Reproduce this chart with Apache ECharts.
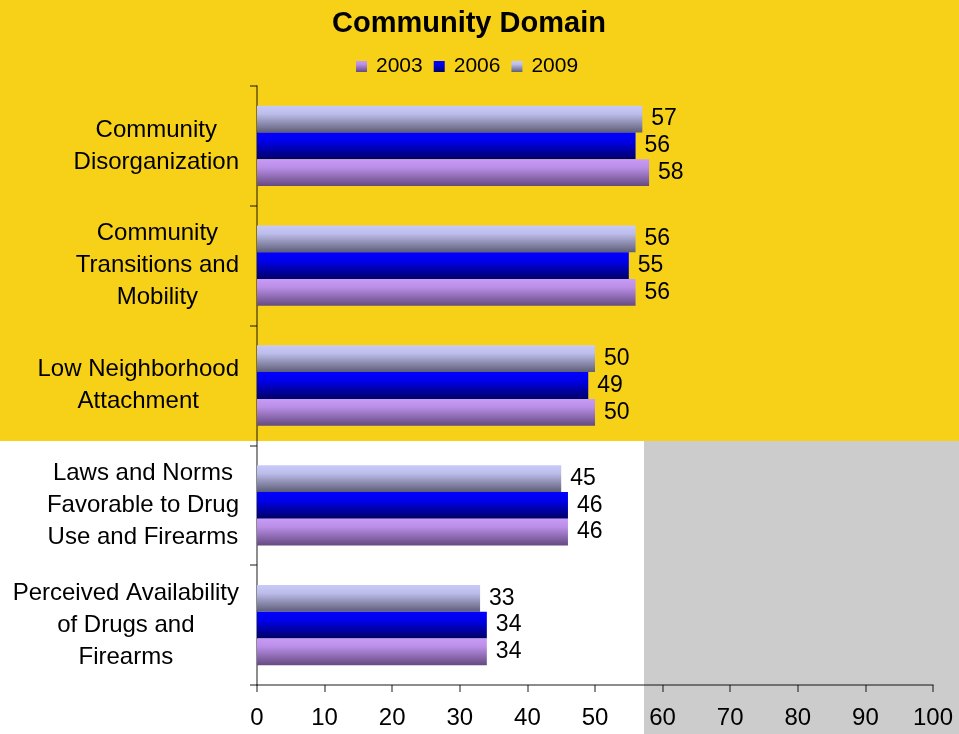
<!DOCTYPE html>
<html>
<head>
<meta charset="utf-8">
<script src="https://cdn.jsdelivr.net/npm/echarts@6/dist/echarts.min.js"></script>
<style>
  html, body { margin: 0; padding: 0; background: #ffffff; }
  #chart { width: 959px; height: 734px; }
</style>
</head>
<body>
<div id="chart"></div>
<script>
// Risk-factor categories, top to bottom
const categories = [
  'Community\nDisorganization',
  'Community\nTransitions and\nMobility',
  'Low Neighborhood\nAttachment',
  'Laws and Norms\nFavorable to Drug\nUse and Firearms',
  'Perceived Availability\nof Drugs and\nFirearms'
];
const years = ['2003', '2006', '2009'];
const values2003 = [58, 56, 50, 46, 34];
const values2006 = [56, 55, 49, 46, 34];
const values2009 = [57, 56, 50, 45, 33];
const axisMin = 0;
const axisMax = 100;
const axisStep = 10;

const FONT = "'Liberation Sans', Arial, sans-serif";

function shade(top, mid, bottom) {
  return new echarts.graphic.LinearGradient(0, 0, 0, 1, [
    { offset: 0, color: top },
    { offset: 0.3, color: mid },
    { offset: 1, color: bottom }
  ]);
}

const fills = {
  '2003': shade('#c89cf6', '#bb8fe8', '#654a80'),
  '2006': shade('#0000ff', '#0000ee', '#000066'),
  '2009': shade('#cacafa', '#bdbdeb', '#5e5e78')
};

const chart = echarts.init(document.getElementById('chart'), null, { renderer: 'canvas' });

function makeSeries(name, data) {
  return {
    name: name,
    type: 'bar',
    data: data,
    barGap: '0%',
    barCategoryGap: '33%',
    itemStyle: { color: fills[name] },
    label: {
      show: true,
      position: 'right',
      distance: 9,
      color: '#000',
      fontFamily: FONT,
      fontSize: 23
    },
    emphasis: { disabled: true }
  };
}

const option = {
  animation: false,
  backgroundColor: '#ffffff',
  title: {
    text: 'Community Domain',
    left: 332,
    top: 9,
    padding: 0,
    textStyle: { fontFamily: FONT, fontSize: 29, fontWeight: 'bold', color: '#000' }
  },
  legend: {
    data: years,
    left: 356,
    top: 56,
    padding: 0,
    itemWidth: 11,
    itemHeight: 11,
    itemGap: 11,
    icon: 'rect',
    textStyle: { fontFamily: FONT, fontSize: 21, color: '#000', padding: [0, 0, 0, 4] }
  },
  graphic: [
    { type: 'rect', z: -10, silent: true, shape: { x: 0, y: 0, width: 959, height: 441 }, style: { fill: '#f7d118' } },
    { type: 'rect', z: -10, silent: true, shape: { x: 644, y: 441, width: 315, height: 293 }, style: { fill: '#cccccc' } }
  ],
  grid: { left: 257, right: 26, top: 86, bottom: 49, containLabel: false },
  xAxis: {
    type: 'value',
    min: axisMin,
    max: axisMax,
    interval: axisStep,
    splitLine: { show: false },
    axisLine: { show: true, lineStyle: { color: 'rgba(0,0,0,0.6)', width: 1.5 } },
    axisTick: { show: true, length: 7, lineStyle: { color: 'rgba(0,0,0,0.6)', width: 1.5 } },
    axisLabel: { margin: 21, fontFamily: FONT, fontSize: 24, color: '#000' }
  },
  yAxis: {
    type: 'category',
    data: categories,
    inverse: true,
    axisLine: { show: true, lineStyle: { color: 'rgba(0,0,0,0.6)', width: 1.5 } },
    axisTick: { show: true, length: 7, lineStyle: { color: 'rgba(0,0,0,0.6)', width: 1.5 } },
    axisLabel: {
      margin: 18,
      align: 'right',
      fontFamily: FONT,
      fontSize: 24,
      lineHeight: 32,
      color: '#000',
      formatter: function (v) {
        return v.split('\n').map(function (l) { return '{c|' + l + '}'; }).join('\n');
      },
      rich: {
        c: { align: 'center', fontFamily: FONT, fontSize: 24, lineHeight: 32, color: '#000' }
      }
    }
  },
  // Within each group the first series sits on top, so 2009 leads
  series: [
    makeSeries('2009', values2009),
    makeSeries('2006', values2006),
    makeSeries('2003', values2003)
  ]
};

chart.setOption(option);
</script>
</body>
</html>
